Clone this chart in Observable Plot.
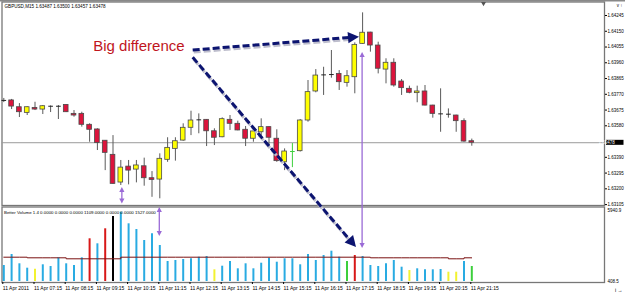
<!DOCTYPE html>
<html><head><meta charset="utf-8">
<script src="https://cdn.jsdelivr.net/npm/d3@7"></script>
<script src="https://cdn.jsdelivr.net/npm/@observablehq/plot@0.6"></script>
<style>
html,body{margin:0;padding:0;background:#fff;}
#chart{position:relative;width:625px;height:294px;overflow:hidden;background:#fff;box-shadow:inset 0 1.5px 0 #888;}
#chart svg{position:absolute;left:0;top:0;background:transparent !important;}
</style></head><body><div id="chart"></div>
<script>
// ---- data ----
const symbolName = "GBPUSD,M15";
const lastQuote = [1.63487, 1.63500, 1.63457, 1.63478]; // O H L C of the last bar
const opens  = [1.63733,1.63733,1.63692,1.63658,1.63688,1.63678,1.63698,1.63698,1.63706,1.63652,
                1.63652,1.63586,1.63558,1.63490,1.63405,1.63238,1.63334,1.63316,1.63336,1.63264,
                1.63256,1.63375,1.63441,1.63491,1.63568,1.63616,1.63616,1.63547,1.63511,1.63616,
                1.63592,1.63556,1.63502,1.63541,1.63572,1.63502,1.63360,1.63425,1.63427,1.63612,
                1.63787,1.63887,1.63889,1.63893,1.63839,1.63873,1.64074,1.64142,1.64064,1.63919,
                1.63960,1.63847,1.63803,1.63777,1.63787,1.63702,1.63652,1.63650,1.63642,1.63608,
                1.63487];
const highs  = [1.63745,1.63739,1.63714,1.63695,1.63722,1.63702,1.63700,1.63702,1.63708,1.63672,
                1.63662,1.63592,1.63562,1.63491,1.63521,1.63371,1.63371,1.63371,1.63385,1.63304,
                1.63411,1.63508,1.63508,1.63592,1.63668,1.63652,1.63618,1.63562,1.63628,1.63642,
                1.63608,1.63576,1.63562,1.63622,1.63574,1.63556,1.63441,1.63473,1.63618,1.63853,
                1.63919,1.63933,1.64034,1.63913,1.63913,1.64080,1.64261,1.64144,1.64084,1.63984,
                1.63984,1.63859,1.63819,1.63819,1.63823,1.63704,1.63803,1.63682,1.63644,1.63622,
                1.63500];
const lows   = [1.63720,1.63678,1.63630,1.63642,1.63672,1.63648,1.63660,1.63618,1.63660,1.63632,
                1.63572,1.63481,1.63431,1.63310,1.63228,1.63220,1.63224,1.63236,1.63216,1.63149,
                1.63140,1.63360,1.63367,1.63487,1.63521,1.63532,1.63455,1.63461,1.63508,1.63552,
                1.63550,1.63455,1.63481,1.63521,1.63461,1.63360,1.63310,1.63328,1.63422,1.63602,
                1.63779,1.63763,1.63867,1.63793,1.63813,1.63773,1.64072,1.64024,1.63893,1.63833,
                1.63813,1.63763,1.63773,1.63719,1.63700,1.63626,1.63541,1.63626,1.63541,1.63481,
                1.63457];
const closes = [1.63733,1.63696,1.63662,1.63692,1.63678,1.63698,1.63698,1.63698,1.63662,1.63642,
                1.63586,1.63556,1.63477,1.63417,1.63230,1.63328,1.63310,1.63341,1.63264,1.63254,
                1.63381,1.63447,1.63487,1.63568,1.63612,1.63616,1.63547,1.63508,1.63620,1.63592,
                1.63552,1.63502,1.63546,1.63572,1.63508,1.63367,1.63425,1.63425,1.63612,1.63783,
                1.63883,1.63887,1.63889,1.63843,1.63879,1.64068,1.64141,1.64064,1.63924,1.63960,
                1.63823,1.63807,1.63779,1.63787,1.63702,1.63652,1.63652,1.63650,1.63608,1.63485,
                1.63478];
const greenBars = [37];

const volumes = [1655,2512,1788,1445,1367,1710,1577,2255,1788,1655,
                 2255,3736,3346,4515,5473,5808,4904,4460,3603,4125,
                 3214,1967,2045,2123,2177,2302,2357,1320,1601,1967,
                 1398,1788,1398,1834,2224,1912,2177,2177,1710,2512,
                 2045,2434,2770,2302,1967,2434,2357,1655,1577,1788,
                 2045,1523,1266,1398,1320,1320,1344,1133,1133,1967,
                 1577];
const volumeClass = ["n","n","n","n","low","n","n","n","n","n",
                     "n","climax","n","climax","churnHigh","n","n","n","n","n",
                     "n","n","n","n","n","n","n","low","n","n",
                     "n","n","n","n","n","n","n","n","n","n",
                     "n","n","n","n","churn","climax","n","n","n","n",
                     "n","n","low","n","n","n","n","low","low","n",
                     "churn"];
const volumeAverage = [2302,2302,2302,2255,2255,2255,2255,2255,2177,2177,
                       2177,2177,2177,2177,2177,2302,2302,2302,2302,2302,
                       2302,2302,2302,2302,2302,2302,2302,2302,2302,2302,
                       2302,2302,2302,2302,2302,2302,2302,2302,2302,2302,
                       2302,2302,2302,2302,2302,2302,2302,2255,2255,2255,
                       2255,2255,2255,2255,2255,2255,2255,2177,2177,2255,
                       2255];
const volumeScaleLabels = [5940.9, 408.5];
const indicatorLabel = "Better Volume 1.4 0.0000 0.0000 0.0000 1109.0000 0.0000 0.0000 1527.0000";

// 1.63485 sits under the current-price tag in the reference, so it is not labelled
const priceTicks = [1.64245,1.64150,1.64055,1.63960,1.63865,1.63770,1.63675,1.63580,1.63390,1.63295,1.63200,1.63105];
const timeTickBars = [0,4,8,12,16,20,24,28,32,36,40,44,48,52,56,60];
const timeLabels = ["11 Apr 2011","11 Apr 07:15","11 Apr 08:15","11 Apr 09:15","11 Apr 10:15","11 Apr 11:15",
                    "11 Apr 12:15","11 Apr 13:15","11 Apr 14:15","11 Apr 15:15","11 Apr 16:15","11 Apr 17:15",
                    "11 Apr 18:15","11 Apr 19:15","11 Apr 20:15","11 Apr 21:15"];

// annotations (in bar / price units)
const bigLabel = [{text: "Big difference", bar: 11.46, price: 1.64059}];
const navyArrows = [
  {fromBar: 24.28, fromPrice: 1.64034, toBar: 45.6,  toPrice: 1.64114},
  {fromBar: 24.28, fromPrice: 1.63990, toBar: 45.22, toPrice: 1.62846}
];
const purpleArrows = [
  {bar: 46,   fromPrice: 1.64022, toPrice: 1.62840},
  {bar: 15.2, fromPrice: 1.63208, toPrice: 1.63108},
  {bar: 20,   fromPrice: 1.63087, toPrice: 1.62912}
];
const chartShiftBar = 61.5;

// ---- styling ----
const FONT = "Liberation Sans, Arial, sans-serif";
const NAVY = "#0c1470";
const PURPLE = "#9a6ad6";
const volColors = {n: "#29abe2", low: "#f2f230", climax: "#d81818", churnHigh: "#000000", churn: "#3ccf3c"};

const bars = d3.range(opens.length).map(i => ({i, o: opens[i], h: highs[i], l: lows[i], c: closes[i], green: greenBars.includes(i)}));
const doji = bars.filter(d => d.o === d.c);
const bodies = bars.filter(d => d.o !== d.c);
const vbars = volumes.map((v, i) => ({i, v, cls: volumeClass[i]}));
const half = 0.3;

const xScale = {domain: [0, 60], range: [3.3, 471.3]};

function annotationMark(index, scales) {
  const X = scales.x, Y = scales.y;
  const g = d3.create("svg:g");
  for (const a of navyArrows) {
    const x1 = X(a.fromBar), y1 = Y(a.fromPrice), x2 = X(a.toBar), y2 = Y(a.toPrice);
    const ang = Math.atan2(y2 - y1, x2 - x1), c = Math.cos(ang), s = Math.sin(ang);
    const L = 11, W = 5.6;
    const bx = x2 - L * c, by = y2 - L * s;
    g.append("line").attr("x1", x1 + 1).attr("y1", y1 + 2).attr("x2", bx + 1).attr("y2", by + 2)
      .attr("stroke", "#bdbdcc").attr("stroke-width", 3).attr("stroke-dasharray", "7 3");
    g.append("line").attr("x1", x1).attr("y1", y1).attr("x2", bx + 2 * c).attr("y2", by + 2 * s)
      .attr("stroke", NAVY).attr("stroke-width", 3).attr("stroke-dasharray", "7 3");
    g.append("polygon").attr("points", `${x2},${y2} ${bx - W * s},${by + W * c} ${bx + W * s},${by - W * c}`)
      .attr("fill", NAVY);
  }
  for (const a of purpleArrows) {
    const x = X(a.bar), ya = Y(a.fromPrice), yb = Y(a.toPrice);
    const top = Math.min(ya, yb), bot = Math.max(ya, yb);
    const L = 5, W = 2.6;
    g.append("line").attr("x1", x).attr("x2", x).attr("y1", top + L - 0.5).attr("y2", bot - L + 0.5)
      .attr("stroke", PURPLE).attr("stroke-width", 1.3);
    g.append("polygon").attr("points", `${x},${top} ${x - W},${top + L} ${x + W},${top + L}`).attr("fill", PURPLE);
    g.append("polygon").attr("points", `${x},${bot} ${x - W},${bot - L} ${x + W},${bot - L}`).attr("fill", PURPLE);
  }
  return g.node();
}

function priceTagMark(index, scales, values, dims) {
  const last = closes[closes.length - 1];
  const y = scales.y(last);
  const x0 = dims.width - dims.marginRight;
  const g = d3.create("svg:g");
  g.append("rect").attr("x", x0 + 2).attr("y", y - 2.4).attr("width", 17.5).attr("height", 5).attr("fill", "#000");
  g.append("text").attr("x", x0 + 2.6).attr("y", y).attr("dy", "0.35em").attr("fill", "#fff")
    .attr("font-size", 4.5).attr("font-family", FONT).text(last.toFixed(5));
  return g.node();
}

// ---- volume panel ----
const volPlot = Plot.plot({
  width: 625, height: 294,
  marginTop: 206.5, marginBottom: 12, marginLeft: 1.5, marginRight: 21,
  style: {background: "transparent", fontFamily: FONT, color: "#000"},
  x: xScale,
  y: {domain: [volumeScaleLabels[1], volumeScaleLabels[0]], range: [281, 210]},
  color: {type: "identity"},
  marks: [
    Plot.frame({stroke: "#777", strokeWidth: 1.3}),
    Plot.ruleX(vbars, {x: "i", y1: volumeScaleLabels[1], y2: "v", stroke: d => volColors[d.cls], strokeWidth: 2}),
    Plot.lineY(volumeAverage, {x: (d, i) => i, y: d => d, curve: "step-after", stroke: "#7a1010", strokeWidth: 1}),
    Plot.axisY(volumeScaleLabels, {anchor: "right", tickSize: 0, tickPadding: 3, fontSize: 4.5, tickFormat: d => d.toFixed(1)}),
    Plot.axisX(timeTickBars, {anchor: "bottom", tickSize: 2, tickPadding: 1.5, fontSize: 5, textAnchor: "start", dx: -1,
      tickFormat: d => timeLabels[timeTickBars.indexOf(d)]}),
    Plot.text([indicatorLabel], {frameAnchor: "top-left", dx: 2, dy: 3.6, fontSize: 4.4, textAnchor: "start", lineAnchor: "top", fill: "#000"})
  ]
});

// ---- price panel ----
const pricePlot = Plot.plot({
  width: 625, height: 294,
  marginTop: 1.5, marginBottom: 89, marginLeft: 1.5, marginRight: 21,
  style: {background: "transparent", fontFamily: FONT, color: "#000"},
  x: {...xScale, axis: null},
  y: {domain: [priceTicks[priceTicks.length - 1], priceTicks[0]], range: [204.1, 15]},
  color: {type: "identity"},
  marks: [
    Plot.frame({stroke: "#777", strokeWidth: 1.3}),
    Plot.ruleY([closes[closes.length - 1]], {stroke: "#9a9a9a", strokeWidth: 1}),
    Plot.ruleX(bars, {x: "i", y1: "l", y2: "h", stroke: d => d.green ? "#3ccf3c" : "#5a5a5a", strokeWidth: 1}),
    Plot.rect(bodies, {x1: d => d.i - half, x2: d => d.i + half, y1: "o", y2: "c",
      fill: d => d.c > d.o ? "#ffff00" : "#dc143c", stroke: "#4a4a4a", strokeWidth: 0.8}),
    Plot.link(doji, {x1: d => d.i - half, x2: d => d.i + half, y1: "o", y2: "o",
      stroke: d => d.green ? "#3ccf3c" : "#222", strokeWidth: 1}),
    Plot.axisY(priceTicks, {anchor: "right", tickSize: 2, tickPadding: 1, fontSize: 4.5, tickFormat: d => d.toFixed(5)}),
    Plot.text([symbolName + " " + lastQuote.map(v => v.toFixed(5)).join(" ")],
      {frameAnchor: "top-left", dx: 2.5, dy: 2.8, fontSize: 4.6, textAnchor: "start", lineAnchor: "top", fill: "#000"}),
    Plot.dot([chartShiftBar], {x: d => d, frameAnchor: "top", symbol: "triangle", rotate: 180, r: 1.8, fill: "#555", dy: 1.5}),
    Plot.text(bigLabel, {x: "bar", y: "price", text: "text", fill: "#c0151d", fontSize: 15, textAnchor: "start", fontFamily: FONT}),
    annotationMark,
    priceTagMark
  ]
});

const host = document.getElementById("chart");
host.appendChild(volPlot);
host.appendChild(pricePlot);
</script>
</body></html>
